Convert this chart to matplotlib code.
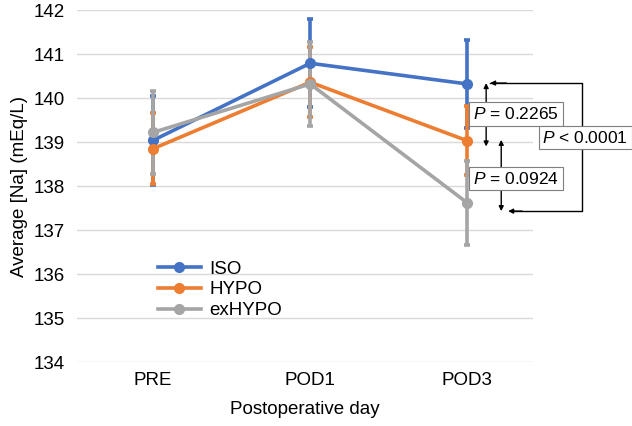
import matplotlib.pyplot as plt
from matplotlib.lines import Line2D
import numpy as np

plt.rcParams['font.family'] = ['Liberation Sans', 'DejaVu Sans']
plt.rcParams['mathtext.fontset'] = 'custom'
plt.rcParams['mathtext.it'] = 'Liberation Sans:italic'
plt.rcParams['mathtext.rm'] = 'Liberation Sans'

# data
days = ['PRE', 'POD1', 'POD3']
iso = [139.04, 140.79, 140.32]
iso_err = [1.01, 1.0, 1.0]
hypo = [138.85, 140.36, 139.03]
hypo_err = [0.8, 0.8, 0.79]
exhypo = [139.22, 140.32, 137.62]
exhypo_err = [0.95, 0.96, 0.96]
p_labels = ['0.2265', '0.0924', '0.0001']

series = [('ISO', iso, iso_err, '#4472C4'),
          ('HYPO', hypo, hypo_err, '#ED7D31'),
          ('exHYPO', exhypo, exhypo_err, '#A5A5A5')]

fig = plt.figure(figsize=(6.32, 4.26), dpi=100)
ax = fig.add_axes([0.122, 0.150, 0.7215, 0.8265])

x = np.arange(len(days))
handles = []
for name, vals, err, col in series:
    ax.errorbar(x, vals, yerr=err, color=col, lw=2.6, marker='o', ms=7,
                elinewidth=2.6, capsize=2, capthick=2.6, zorder=3)
    handles.append(Line2D([], [], color=col, lw=2.6, marker='o', ms=7, label=name))

ax.set_ylim(134, 142)
ax.set_yticks(np.arange(134, 143, 1))
ax.set_xlim(-0.485, 2.42)
ax.set_xticks(x)
ax.set_xticklabels(days)
ax.grid(axis='y', color='#D9D9D9', lw=1)
ax.set_axisbelow(True)
for s in ax.spines.values():
    s.set_visible(False)
ax.tick_params(length=0, labelsize=13.5, pad=7)
ax.tick_params(axis='y', pad=9)
ax.set_ylabel('Average [Na] (mEq/L)', fontsize=13.5, labelpad=4)
ax.set_xlabel('Postoperative day', fontsize=13.5, labelpad=9)

ax.legend(handles=handles, loc='upper left', bbox_to_anchor=(0.16, 0.31),
          frameon=False, fontsize=13.5, handlelength=2.3, handletextpad=0.45,
          labelspacing=0.2, borderaxespad=0)

# significance arrows
ak = dict(arrowstyle='<|-|>', color='black', lw=1, mutation_scale=7,
          shrinkA=0, shrinkB=0)
ax.annotate('', xy=(2.121, iso[2] + 0.02), xytext=(2.121, hypo[2] - 0.13),
            arrowprops=ak, annotation_clip=False)
ax.annotate('', xy=(2.217, hypo[2] + 0.02), xytext=(2.217, exhypo[2] - 0.19),
            arrowprops=ak, annotation_clip=False)
ax.plot([2.146, 2.732, 2.732, 2.30], [iso[2] + 0.02, iso[2] + 0.02,
        exhypo[2] - 0.19, exhypo[2] - 0.19], color='black', lw=1,
        clip_on=False, zorder=4)
ax.annotate('', xy=(2.146, iso[2] + 0.02), xytext=(2.25, iso[2] + 0.02),
            arrowprops=dict(arrowstyle='-|>', color='black', lw=1,
                            mutation_scale=7, shrinkA=0, shrinkB=0),
            annotation_clip=False)
ax.annotate('', xy=(2.261, exhypo[2] - 0.19), xytext=(2.35, exhypo[2] - 0.19),
            arrowprops=dict(arrowstyle='-|>', color='black', lw=1,
                            mutation_scale=7, shrinkA=0, shrinkB=0),
            annotation_clip=False)

box = dict(boxstyle='square,pad=0.22', fc='white', ec='#7F7F7F', lw=0.8)
ax.text(2.312, 139.64, '$P$ = ' + p_labels[0], ha='center', va='center',
        fontsize=12.5, bbox=box, zorder=5, clip_on=False)
ax.text(2.312, 138.17, '$P$ = ' + p_labels[1], ha='center', va='center',
        fontsize=12.5, bbox=box, zorder=5, clip_on=False)
ax.text(2.752, 139.10, '$P$ < ' + p_labels[2], ha='center', va='center',
        fontsize=12.5, bbox=box, zorder=5, clip_on=False)

fig.savefig('out.png', dpi=100)
